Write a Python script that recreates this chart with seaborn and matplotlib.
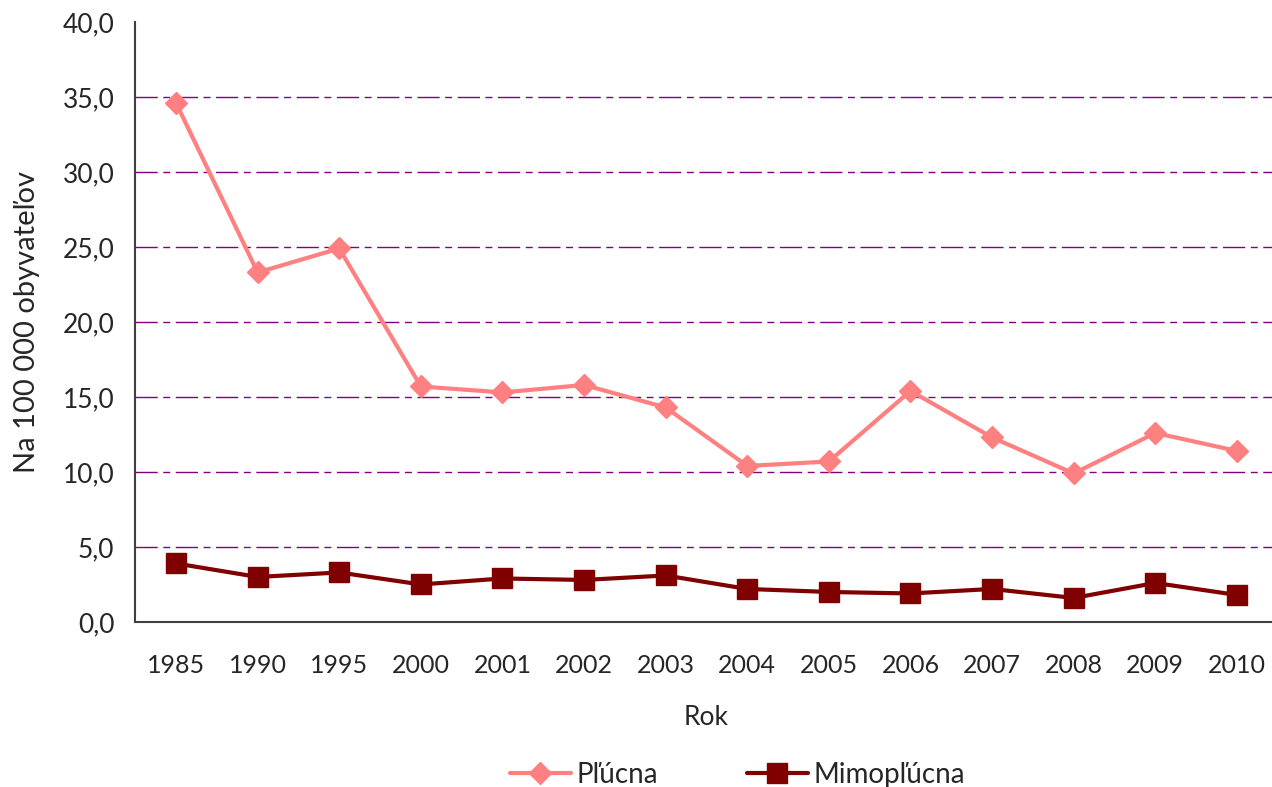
import pandas as pd
import matplotlib.pyplot as plt
import seaborn as sns
from matplotlib.ticker import FuncFormatter, FixedLocator

# Údaje z grafu (na 100 000 obyvateľov)
roky = ['1985', '1990', '1995', '2000', '2001', '2002', '2003',
        '2004', '2005', '2006', '2007', '2008', '2009', '2010']
plucna = [34.6, 23.3, 24.9, 15.7, 15.3, 15.8, 14.3,
          10.4, 10.7, 15.4, 12.3, 9.9, 12.6, 11.4]
mimoplucna = [3.9, 3.0, 3.3, 2.5, 2.9, 2.8, 3.1,
              2.2, 2.0, 1.9, 2.2, 1.6, 2.6, 1.8]

data = pd.DataFrame({
    'Rok': roky * 2,
    'Hodnota': plucna + mimoplucna,
    'Forma': ['Pľúcna'] * len(roky) + ['Mimopľúcna'] * len(roky),
})

sns.set_style('white')
plt.rcParams['font.family'] = ['Lato', 'DejaVu Sans']

fig = plt.figure(figsize=(12.72, 7.87), dpi=100)
ax = fig.add_axes([0.1063, 0.2097, 0.8982, 0.7624])

farby = {'Pľúcna': '#FF8080', 'Mimopľúcna': '#800000'}
znacky = {'Pľúcna': 'D', 'Mimopľúcna': 's'}
sns.lineplot(data=data, x='Rok', y='Hodnota', hue='Forma', style='Forma',
             palette=farby, markers=znacky, dashes=False, sort=False,
             linewidth=3, markersize=15, ax=ax, zorder=3)
# okraje značiek v rovnakej farbe ako čiara
for line in ax.lines:
    line.set_markeredgecolor(line.get_color())
    line.set_markeredgewidth(1)
    if line.get_marker() == 'D':
        line.set_markersize(11.5)

ax.set_xlim(-0.5, len(roky) - 0.5)
ax.set_ylim(0, 40)
ax.set_yticks(range(0, 45, 5))
ax.yaxis.set_major_formatter(FuncFormatter(lambda v, p: f'{v:.1f}'.replace('.', ',')))

# hranice kategórií
ax.xaxis.set_minor_locator(FixedLocator([i - 0.5 for i in range(len(roky) + 1)]))
ax.tick_params(axis='x', which='major', length=0, pad=23, labelsize=18)
ax.tick_params(axis='x', which='minor', length=7, width=1, color='#404040', direction='out')
ax.tick_params(axis='y', length=5, width=1, color='#404040', direction='out', pad=10, labelsize=19)

ax.grid(axis='y', color='#800080', linewidth=1, linestyle=(0, (16, 4, 5, 4)))
ax.yaxis.get_gridlines()[-1].set_visible(False)
ax.set_axisbelow(True)

for s in ['top', 'right']:
    ax.spines[s].set_visible(False)
for s in ['left', 'bottom']:
    ax.spines[s].set_color('#404040')
    ax.spines[s].set_linewidth(1.5)

ax.set_xlabel('Rok', fontsize=19, labelpad=20)
ax.set_ylabel('Na 100 000 obyvateľov', fontsize=21, labelpad=16)

h, l = ax.get_legend_handles_labels()
for hd in h:
    hd.set_markeredgecolor(hd.get_color())
ax.legend(h, l, loc='center', bbox_to_anchor=(0.527, -0.255), ncol=2, frameon=False,
          fontsize=20, handlelength=2.2, handletextpad=0.2, columnspacing=3.2)

fig.savefig('out.png', dpi=100)
